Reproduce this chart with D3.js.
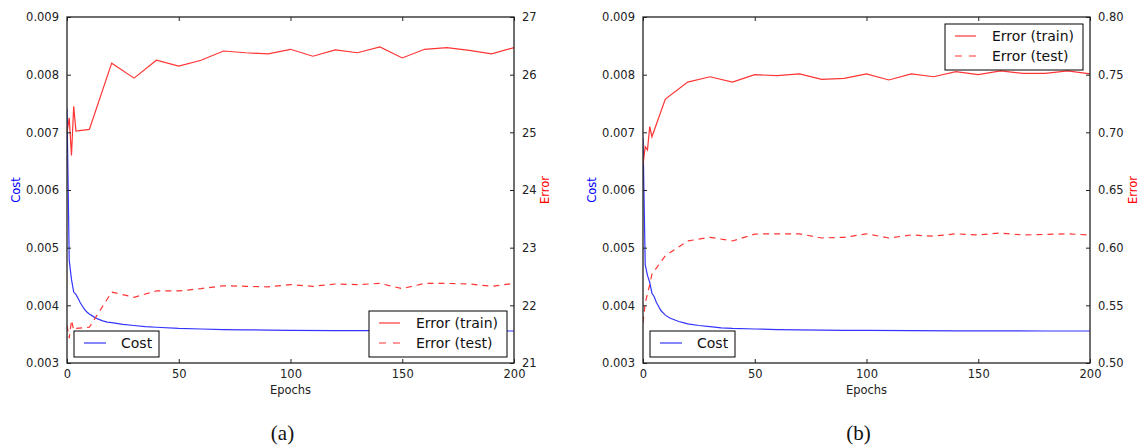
<!DOCTYPE html>
<html>
<head>
<meta charset="utf-8">
<script src="https://cdn.jsdelivr.net/npm/d3@7/dist/d3.min.js"></script>
<style>
  html, body { margin: 0; padding: 0; background: #fff; }
  svg { display: block; font-family: "DejaVu Sans", sans-serif; }
  .caption { font-family: "Liberation Serif", "DejaVu Serif", serif; }
</style>
</head>
<body>
<svg id="chart" width="1142" height="445"></svg>
<script>
// ---- Data -------------------------------------------------------------
// Shared tick values
const epochTicks = [0, 50, 100, 150, 200];
const costTicks = [0.003, 0.004, 0.005, 0.006, 0.007, 0.008, 0.009];
const errTicksA = [21, 22, 23, 24, 25, 26, 27];
const errTicksB = [0.50, 0.55, 0.60, 0.65, 0.70, 0.75, 0.80];

// Panel (a): training cost per epoch
const costEpochsA = [0, 1, 2, 3, 4, 5, 6, 7, 8, 9, 10, 12, 14, 16, 18, 20, 25, 30, 35, 40,
  50, 60, 70, 80, 90, 100, 120, 140, 160, 180, 200];
const costA = [0.0074, 0.00478, 0.00445, 0.00423, 0.00419, 0.00412, 0.00404, 0.00398, 0.00392,
  0.00388, 0.00385, 0.0038, 0.00376, 0.00373, 0.00371, 0.0037, 0.00367, 0.00365, 0.00363,
  0.00362, 0.0036, 0.00359, 0.00358, 0.003575, 0.00357, 0.003567, 0.003563, 0.00356,
  0.003558, 0.003556, 0.003555];

// Panel (a): error on train / test sets
const errEpochsA = [0, 1, 2, 3, 4, 10, 20, 30, 40, 50, 60, 70, 80, 90, 100,
  110, 120, 130, 140, 150, 160, 170, 180, 190, 200];
const trainErrA = [25.0, 25.25, 24.6, 25.45, 25.02, 25.05, 26.2, 25.94, 26.25, 26.15, 26.25,
  26.41, 26.38, 26.36, 26.44, 26.32, 26.43, 26.38, 26.48, 26.29, 26.44, 26.47, 26.42,
  26.36, 26.47];
const testErrA = [21.65, 21.43, 21.74, 21.57, 21.6, 21.62, 22.23, 22.14, 22.25, 22.25, 22.29,
  22.34, 22.33, 22.32, 22.36, 22.33, 22.37, 22.36, 22.38, 22.29, 22.38, 22.38, 22.37,
  22.33, 22.38];

// Panel (b): training cost per epoch
const costEpochsB = [0, 1, 2, 3, 4, 5, 6, 7, 8, 9, 10, 12, 14, 16, 18, 20, 25, 30, 35, 40,
  50, 60, 70, 80, 90, 100, 120, 140, 160, 180, 200];
const costB = [0.0069, 0.0047, 0.00452, 0.0044, 0.00421, 0.00415, 0.00405, 0.00398, 0.00391,
  0.00387, 0.00383, 0.00378, 0.00375, 0.00372, 0.0037, 0.00368, 0.00365, 0.00363, 0.00361,
  0.0036, 0.00359, 0.00358, 0.003575, 0.00357, 0.003567, 0.003565, 0.00356, 0.003558,
  0.003556, 0.003555, 0.003555];

// Panel (b): error on train / test sets
const errEpochsB = [0, 1, 2, 3, 4, 10, 20, 30, 40, 50, 60, 70, 80, 90, 100,
  110, 120, 130, 140, 150, 160, 170, 180, 190, 200];
const trainErrB = [0.672, 0.6875, 0.6847, 0.7049, 0.6962, 0.7289, 0.7436, 0.7482, 0.7436,
  0.750, 0.7491, 0.7506, 0.746, 0.7468, 0.7506, 0.7454, 0.7506, 0.7482, 0.7526, 0.750,
  0.7532, 0.7512, 0.7512, 0.7532, 0.7506];
const testErrB = [0.535, 0.552, 0.560, 0.568, 0.577, 0.593, 0.6058, 0.609, 0.6058, 0.6118,
  0.612, 0.612, 0.6084, 0.609, 0.612, 0.6084, 0.611, 0.610, 0.612, 0.611, 0.6127, 0.611,
  0.6115, 0.612, 0.611];

// ---- Drawing ----------------------------------------------------------
const svg = d3.select("#chart");
const BLUE = "#3434ff";
const RED = "#ff3434";

function drawPanel(opt) {
  const { left, right, top, bottom } = opt;
  const g = svg.append("g");

  const x = d3.scaleLinear().domain([0, 200]).range([left, right]);
  const yCost = d3.scaleLinear().domain([0.003, 0.009]).range([bottom, top]);
  const yErr = d3.scaleLinear().domain(opt.errDomain).range([bottom, top]);

  const clipId = "clip-" + opt.id;
  svg.append("defs").append("clipPath").attr("id", clipId)
    .append("rect").attr("x", left).attr("y", top)
    .attr("width", right - left).attr("height", bottom - top);

  // cost curve
  const costLine = d3.line().x((d, i) => x(opt.costEpochs[i])).y(d => yCost(d));
  g.append("path").datum(opt.cost)
    .attr("clip-path", `url(#${clipId})`)
    .attr("d", costLine)
    .attr("fill", "none").attr("stroke", BLUE).attr("stroke-width", 1.2);

  // cost legend
  const cl = opt.costLegend;
  const clg = g.append("g").attr("transform", `translate(${cl.x},${cl.y})`);
  clg.append("rect").attr("width", cl.w).attr("height", cl.h)
    .attr("fill", "#fff").attr("stroke", "#000").attr("stroke-width", 1);
  clg.append("line").attr("x1", 10).attr("x2", 32).attr("y1", 12).attr("y2", 12)
    .attr("stroke", BLUE).attr("stroke-width", 1.2);
  clg.append("text").attr("x", 47).attr("y", 17).attr("font-size", 14)
    .attr("fill", "#111").text("Cost");

  // error curves
  const errLine = d3.line().x((d, i) => x(opt.errEpochs[i])).y(d => yErr(d));
  g.append("path").datum(opt.trainErr)
    .attr("clip-path", `url(#${clipId})`)
    .attr("d", errLine)
    .attr("fill", "none").attr("stroke", RED).attr("stroke-width", 1.2);
  g.append("path").datum(opt.testErr)
    .attr("clip-path", `url(#${clipId})`)
    .attr("d", errLine)
    .attr("fill", "none").attr("stroke", RED).attr("stroke-width", 1.2)
    .attr("stroke-dasharray", "6,5");

  // error legend
  const el = opt.errLegend;
  const elg = g.append("g").attr("transform", `translate(${el.x},${el.y})`);
  elg.append("rect").attr("width", el.w).attr("height", el.h)
    .attr("fill", "#fff").attr("stroke", "#000").attr("stroke-width", 1);
  elg.append("line").attr("x1", 10).attr("x2", 31).attr("y1", 12).attr("y2", 12)
    .attr("stroke", RED).attr("stroke-width", 1.2);
  elg.append("line").attr("x1", 10).attr("x2", 31).attr("y1", 32).attr("y2", 32)
    .attr("stroke", RED).attr("stroke-width", 1.2).attr("stroke-dasharray", "7,7");
  elg.append("text").attr("x", 47).attr("y", 17).attr("font-size", 14)
    .attr("fill", "#111").text("Error (train)");
  elg.append("text").attr("x", 47).attr("y", 37).attr("font-size", 14)
    .attr("fill", "#111").text("Error (test)");

  // axes (ticks pointing inward)
  const tickLen = 4;
  const styleAxis = sel => {
    sel.select(".domain").remove();
    sel.selectAll(".tick line").attr("stroke", "#222");
    sel.selectAll(".tick text").attr("font-size", 11.5).attr("fill", "#222")
      .style("font-family", "'DejaVu Sans', sans-serif");
  };

  g.append("g").attr("transform", `translate(0,${bottom})`)
    .call(d3.axisBottom(x).tickValues(epochTicks).tickFormat(d3.format("d"))
      .tickSizeInner(-tickLen).tickSizeOuter(0).tickPadding(7))
    .call(styleAxis);
  g.append("g").attr("transform", `translate(0,${top})`)
    .call(d3.axisTop(x).tickValues(epochTicks).tickFormat("")
      .tickSizeInner(-tickLen).tickSizeOuter(0))
    .call(styleAxis);
  g.append("g").attr("transform", `translate(${left},0)`)
    .call(d3.axisLeft(yCost).tickValues(costTicks).tickFormat(d3.format(".3f"))
      .tickSizeInner(-tickLen).tickSizeOuter(0).tickPadding(8))
    .call(styleAxis);
  g.append("g").attr("transform", `translate(${right},0)`)
    .call(d3.axisRight(yErr).tickValues(opt.errTicks).tickFormat(d3.format(opt.errFormat))
      .tickSizeInner(-tickLen).tickSizeOuter(0).tickPadding(8))
    .call(styleAxis);

  // frame
  g.append("rect").attr("x", left).attr("y", top)
    .attr("width", right - left).attr("height", bottom - top)
    .attr("fill", "none").attr("stroke", "#222").attr("stroke-width", 1.3);

  // axis titles
  g.append("text").attr("x", (left + right) / 2).attr("y", bottom + 31)
    .attr("text-anchor", "middle").attr("font-size", 11.5).attr("fill", "#222")
    .text("Epochs");
  g.append("text")
    .attr("transform", `translate(${left - 47},${(top + bottom) / 2}) rotate(-90)`)
    .attr("text-anchor", "middle").attr("font-size", 11.5).attr("fill", "blue")
    .text("Cost");
  g.append("text")
    .attr("transform", `translate(${right + opt.errTitleOffset},${(top + bottom) / 2}) rotate(-90)`)
    .attr("text-anchor", "middle").attr("font-size", 11.5).attr("fill", "red")
    .text("Error");

  // caption
  svg.append("text").attr("class", "caption")
    .attr("x", (left + right) / 2 - 8).attr("y", 440)
    .attr("text-anchor", "middle").attr("font-size", 21).attr("fill", "#111")
    .text(opt.caption);
}

drawPanel({
  id: "a", left: 67, right: 514, top: 17, bottom: 363,
  errDomain: [21, 27], errTicks: errTicksA, errFormat: "d", errTitleOffset: 35,
  costEpochs: costEpochsA, cost: costA,
  errEpochs: errEpochsA, trainErr: trainErrA, testErr: testErrA,
  costLegend: { x: 74, y: 331, w: 85, h: 26 },
  errLegend: { x: 369, y: 311, w: 138, h: 46 },
  caption: "(a)"
});

drawPanel({
  id: "b", left: 643, right: 1090, top: 17, bottom: 363,
  errDomain: [0.50, 0.80], errTicks: errTicksB, errFormat: ".2f", errTitleOffset: 47,
  costEpochs: costEpochsB, cost: costB,
  errEpochs: errEpochsB, trainErr: trainErrB, testErr: testErrB,
  costLegend: { x: 650, y: 331, w: 85, h: 26 },
  errLegend: { x: 945, y: 24, w: 138, h: 46 },
  caption: "(b)"
});
</script>
</body>
</html>
